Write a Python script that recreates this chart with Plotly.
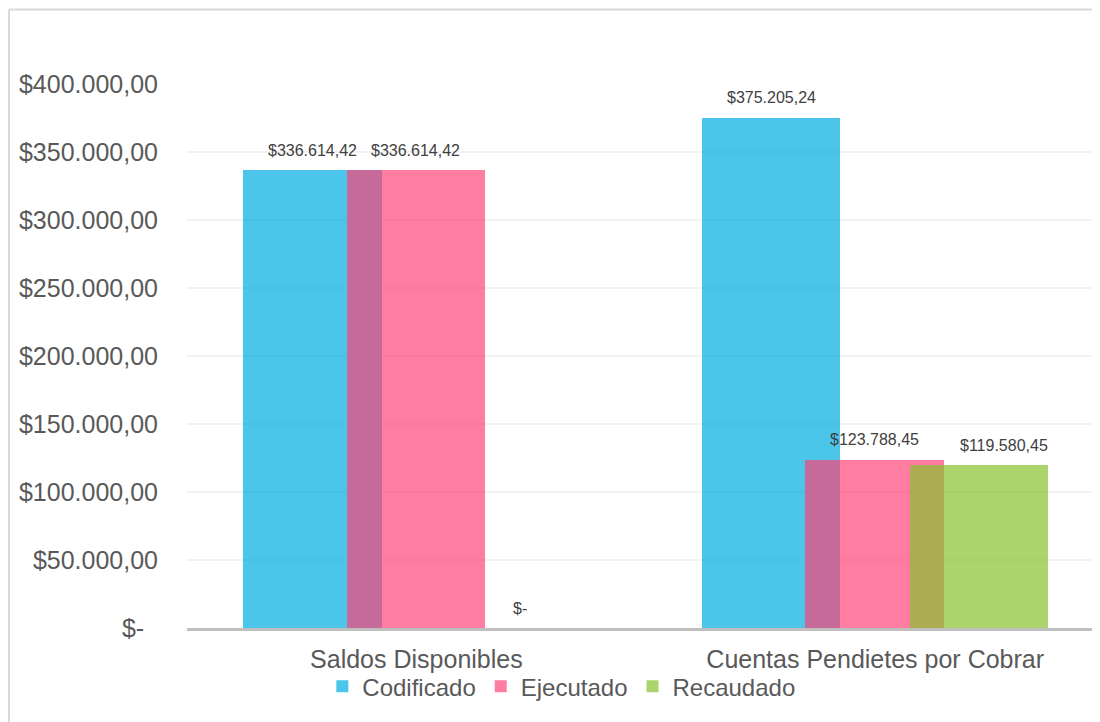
import plotly.graph_objects as go

categories = ["Saldos Disponibles", "Cuentas Pendietes por Cobrar"]
series_names = ["Codificado", "Ejecutado", "Recaudado"]
codificado = [336614.42, 375205.24]
ejecutado = [336614.42, 123788.45]
recaudado = [0.0, 119580.45]
label_codificado = ["$336.614,42", "$375.205,24"]
label_ejecutado = ["$336.614,42", "$123.788,45"]
label_recaudado = ["$-", "$119.580,45"]
y_tickvals = [0, 50000, 100000, 150000, 200000, 250000, 300000, 350000, 400000]
y_ticktext = ["$-\u00a0\u00a0", "$50.000,00", "$100.000,00", "$150.000,00", "$200.000,00",
              "$250.000,00", "$300.000,00", "$350.000,00", "$400.000,00"]

colors = ["rgba(0,172,225,0.70)", "rgba(255,64,115,0.68)", "rgba(135,194,46,0.70)"]
values = [codificado, ejecutado, recaudado]
labels = [label_codificado, label_ejecutado, label_recaudado]
offsets = [-0.378, -0.152, 0.075]
bw = 0.302

FONT = "Liberation Sans, Arial, sans-serif"

fig = go.Figure()
for name, vals, col, off in zip(series_names, values, colors, offsets):
    fig.add_trace(go.Bar(
        x=categories, y=vals, name=name,
        marker=dict(color=col, line=dict(width=0)),
        offset=off, width=bw, cliponaxis=False,
    ))

annotations = []
for si, (labs, vals, off) in enumerate(zip(labels, values, offsets)):
    for ci, (lab, v) in enumerate(zip(labs, vals)):
        xshift = 25 if (si == 2 and ci == 1) else 0
        annotations.append(dict(
            x=ci + off + bw / 2, y=v, xref="x", yref="y",
            text=lab, showarrow=False, yshift=20, xshift=xshift,
            yanchor="middle", xanchor="center",
            font=dict(family=FONT, size=16, color="#404040"),
        ))

fig.update_layout(
    width=1092, height=714,
    margin=dict(l=179, r=0, t=76, b=94),
    paper_bgcolor="white", plot_bgcolor="white",
    barmode="overlay",
    bargap=0,
    font=dict(family=FONT, size=25, color="#595959"),
    showlegend=True,
    legend=dict(orientation="h", x=0.41, xanchor="center", y=-0.108, yanchor="middle",
                font=dict(family=FONT, size=24, color="#595959"), itemwidth=30,
                traceorder="normal", bgcolor="rgba(0,0,0,0)"),
    annotations=annotations,
    shapes=[
        dict(type="line", xref="paper", yref="paper", x0=-0.195, x1=-0.195, y0=1.137, y1=-0.2,
             line=dict(color="#D9D9D9", width=2)),
        dict(type="line", xref="paper", yref="paper", x0=-0.195, x1=1.01, y0=1.137, y1=1.137,
             line=dict(color="#D9D9D9", width=2)),
    ],
)
fig.update_xaxes(
    range=[-0.5, 1.49], showgrid=False, showline=True, linecolor="#BFBFBF", linewidth=3,
    ticks="outside", ticklen=7, tickcolor="rgba(0,0,0,0)",
    tickfont=dict(family=FONT, size=25, color="#595959"),
)
fig.update_yaxes(
    range=[0, 400000], tickvals=y_tickvals, ticktext=y_ticktext,
    showgrid=True, gridcolor="#F2F2F2", gridwidth=2, zeroline=False, showline=False,
    ticks="outside", ticklen=23, tickcolor="rgba(0,0,0,0)",
    tickfont=dict(family=FONT, size=25, color="#595959"),
)

fig.write_html("out.html")
